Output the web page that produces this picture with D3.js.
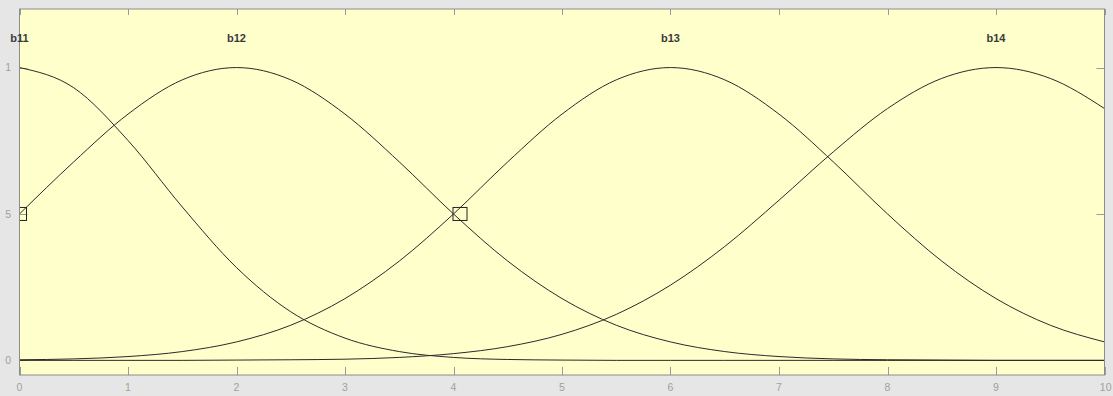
<!DOCTYPE html>
<html>
<head>
<meta charset="utf-8">
<script src="https://cdn.jsdelivr.net/npm/d3@7"></script>
<style>
  body { margin:0; background:#e6e6e6; overflow:hidden; }
  .tick-label { font-family:"Liberation Sans", Arial, sans-serif; font-size:10.5px; fill:#a0a0a0; }
  .mf-label { font-family:"Liberation Sans", Arial, sans-serif; font-size:11px; font-weight:bold; fill:#3a3a3a; }
  .mf { fill:none; stroke:#2a2a2a; stroke-width:1; }
</style>
</head>
<body>
<div id="chart"></div>
<script>

// input axis samples (0..10, step 0.5)
var xs = [0,0.5,1,1.5,2,2.5,3,3.5,4,4.5,5,5.5,6,6.5,7,7.5,8,8.5,9,9.5,10];

// membership values
var b11 = [1,0.931,0.751,0.524,0.317,0.166,0.076,0.030,0.010,0.003,0.001,0,0,0,0,0,0,0,0,0,0];
var b12 = [0.500,0.678,0.841,0.958,1,0.958,0.841,0.678,0.500,0.339,0.211,0.120,0.063,0.030,0.013,0.005,0.002,0.001,0,0,0];
var b13 = [0.002,0.005,0.013,0.030,0.063,0.120,0.211,0.339,0.500,0.678,0.841,0.958,1,0.958,0.841,0.678,0.500,0.339,0.211,0.120,0.063];
var b14 = [0,0,0,0,0.001,0.002,0.004,0.010,0.023,0.047,0.089,0.157,0.257,0.389,0.547,0.712,0.860,0.963,1,0.963,0.860];

var mfNames = ["b11","b12","b13","b14"];
var mfCenters = [0, 2, 6, 9];
var mfValues = [b11, b12, b13, b14];

// selected points (small squares)
var marks = [{x:0, y:0.5}, {x:4.06, y:0.5}];

var xTicks = [0,1,2,3,4,5,6,7,8,9,10];
var yTicks = [0, 0.5, 1];
var yTickLabels = ["0", "5", "1"];

/////////////////////////

var W = 1113, H = 396;
var plotLeft = 19.5, plotRight = 1104.5, plotTop = 9, plotBottom = 375;

var x = d3.scaleLinear().domain([0,10]).range([plotLeft, plotRight]);
var y = d3.scaleLinear().domain([-0.05, 1.2]).range([plotBottom, plotTop]);

var svg = d3.select("#chart").append("svg")
    .attr("width", W)
    .attr("height", H);

svg.append("defs").append("clipPath").attr("id","plot")
  .append("rect")
    .attr("x", plotLeft).attr("y", plotTop)
    .attr("width", plotRight-plotLeft).attr("height", plotBottom-plotTop);

// plot background
svg.append("rect")
    .attr("x", plotLeft).attr("y", plotTop)
    .attr("width", plotRight-plotLeft).attr("height", plotBottom-plotTop)
    .attr("fill", "#ffffcc");

// ticks (inward, on all four sides)
var ticks = svg.append("g").attr("stroke", "#9a9a9a").attr("stroke-width", 1);
xTicks.forEach(function(t){
    var px = Math.round(x(t)) + 0.5;
    ticks.append("line").attr("x1", px).attr("x2", px).attr("y1", plotBottom).attr("y2", plotBottom-8);
    ticks.append("line").attr("x1", px).attr("x2", px).attr("y1", plotTop).attr("y2", plotTop+6);
});
yTicks.forEach(function(t){
    var py = Math.round(y(t)) + 0.5;
    ticks.append("line").attr("x1", plotLeft).attr("x2", plotLeft+8).attr("y1", py).attr("y2", py);
    ticks.append("line").attr("x1", plotRight).attr("x2", plotRight-8).attr("y1", py).attr("y2", py);
});

// curves
var line = d3.line()
    .x(function(d){ return x(d[0]); })
    .y(function(d){ return y(d[1]); })
    .curve(d3.curveMonotoneX);

var curves = svg.append("g").attr("clip-path", "url(#plot)");
mfValues.forEach(function(vals){
    curves.append("path")
        .attr("class", "mf")
        .attr("d", line(xs.map(function(v,i){ return [v, vals[i]]; })));
});

// selection squares (centred on the point, clipped at the frame)
curves.selectAll("rect.mark").data(marks).enter().append("rect")
    .attr("class", "mark")
    .attr("x", function(d){ return x(d.x) - 7; })
    .attr("y", function(d){ return y(d.y) - 6.5; })
    .attr("width", 14)
    .attr("height", 13)
    .attr("fill", "none")
    .attr("stroke", "#222")
    .attr("stroke-width", 1);

// frame
svg.append("rect")
    .attr("x", plotLeft).attr("y", plotTop)
    .attr("width", plotRight-plotLeft).attr("height", plotBottom-plotTop)
    .attr("fill", "none")
    .attr("stroke", "#8c8c8c")
    .attr("stroke-width", 1);

// MF names
svg.selectAll("text.mf-label").data(mfNames).enter().append("text")
    .attr("class", "mf-label")
    .attr("x", function(d,i){ return Math.max(x(mfCenters[i]), 16); })
    .attr("y", 42)
    .attr("text-anchor", "middle")
    .text(function(d){ return d; });

// tick labels
svg.selectAll("text.xl").data(xTicks).enter().append("text")
    .attr("class", "tick-label xl")
    .attr("x", function(d){ return x(d); })
    .attr("y", 391)
    .attr("text-anchor", function(d){ return d==10 ? "end" : "middle"; })
    .attr("dx", function(d){ return d==10 ? 7 : 0; })
    .text(function(d){ return d; });

svg.selectAll("text.yl").data(yTicks).enter().append("text")
    .attr("class", "tick-label yl")
    .attr("x", 11)
    .attr("y", function(d){ return y(d); })
    .attr("dy", "0.35em")
    .attr("text-anchor", "end")
    .text(function(d,i){ return yTickLabels[i]; });

</script>
</body>
</html>
